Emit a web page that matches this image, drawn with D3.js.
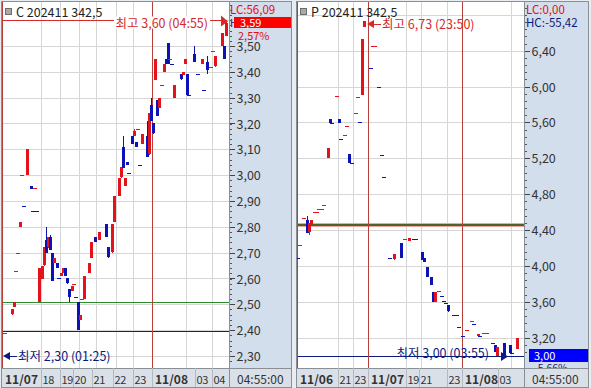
<!doctype html>
<html>
<head>
<meta charset="utf-8">
<title>C / P 202411 342,5</title>
<script src="https://cdnjs.cloudflare.com/ajax/libs/d3/7.8.5/d3.min.js"></script>
<style>
  body { margin: 0; background: #fff; }
  svg text { font-family: "Noto Sans CJK KR", "Noto Sans", sans-serif; }
</style>
</head>
<body>
<div id="chart"></div>
<script>
// ---- call C 202411 342,5 (bar slot, open, high, low, close) ----
const callBar   = [1,4,5,6,7,8,9,10,11,13,14,15,16,17,18,19,20,21,22,23,24,25,26,27,28,29,30,31,32,33,34,35,36,37,38,40,41,43,45,48,49,51,52,54,55,56,57,58,59,60,61,62,63,64,65,67,68,69,70,71,72,73,74,75,76,77,78,79,80,83,84,85,86,87,89,91,93,94,95,97,98,99,102,103,104];
const callOpen  = [2.39,2.46,2.49,2.63,2.70,2.80,3.00,2.88,3.00,2.96,2.86,2.95,2.86,2.51,2.60,2.65,2.75,2.72,2.76,2.70,2.66,2.66,2.60,2.61,2.62,2.64,2.60,2.56,2.55,2.58,2.53,2.51,2.44,2.52,2.52,2.62,2.68,2.76,2.75,2.81,2.72,2.70,2.82,2.92,2.99,3.11,2.96,3.05,3.01,3.15,3.15,3.13,3.18,3.04,3.12,3.15,3.08,3.27,3.20,3.37,3.29,3.26,3.35,3.40,3.45,3.51,3.45,3.43,3.30,3.39,3.39,3.43,3.39,3.31,3.47,3.39,3.43,3.33,3.44,3.42,3.48,3.42,3.50,3.50,3.54];
const callHigh  = [2.39,2.48,2.51,2.63,2.70,2.82,3.00,2.88,3.10,2.96,2.86,2.95,2.86,2.64,2.65,2.72,2.80,2.76,2.77,2.70,2.68,2.66,2.60,2.62,2.64,2.64,2.60,2.56,2.57,2.58,2.53,2.51,2.46,2.52,2.61,2.66,2.74,2.76,2.78,2.81,2.72,2.81,2.92,2.99,3.03,3.15,2.99,3.05,3.01,3.15,3.18,3.13,3.18,3.04,3.16,3.21,3.24,3.30,3.20,3.45,3.29,3.30,3.35,3.43,3.45,3.51,3.45,3.43,3.35,3.39,3.40,3.45,3.39,3.31,3.50,3.39,3.45,3.33,3.46,3.42,3.48,3.46,3.55,3.50,3.60];
const callLow   = [2.39,2.46,2.49,2.63,2.70,2.80,3.00,2.88,3.00,2.95,2.86,2.95,2.86,2.51,2.60,2.65,2.70,2.72,2.71,2.59,2.66,2.64,2.60,2.61,2.62,2.61,2.58,2.51,2.55,2.58,2.53,2.40,2.44,2.52,2.52,2.62,2.68,2.74,2.75,2.76,2.68,2.70,2.82,2.92,2.99,3.03,2.96,3.04,3.01,3.12,3.15,3.11,3.18,3.04,3.12,3.07,3.08,3.21,3.16,3.37,3.23,3.26,3.35,3.40,3.43,3.43,3.45,3.43,3.30,3.37,3.39,3.43,3.31,3.31,3.44,3.39,3.43,3.33,3.39,3.42,3.48,3.42,3.50,3.45,3.54];
const callClose = [2.39,2.48,2.51,2.63,2.70,2.82,3.00,2.88,3.10,2.95,2.86,2.95,2.86,2.64,2.65,2.72,2.70,2.76,2.71,2.59,2.68,2.64,2.60,2.62,2.64,2.61,2.58,2.53,2.57,2.58,2.53,2.40,2.46,2.52,2.61,2.66,2.74,2.74,2.78,2.76,2.68,2.81,2.92,2.99,3.03,3.03,2.99,3.04,3.01,3.12,3.17,3.11,3.18,3.04,3.16,3.07,3.24,3.21,3.16,3.45,3.23,3.30,3.35,3.43,3.43,3.43,3.45,3.43,3.35,3.37,3.40,3.45,3.31,3.31,3.44,3.39,3.45,3.33,3.41,3.42,3.48,3.46,3.55,3.45,3.59];
const callPrevClose = 2.30;
const callTicks  = [2.30,2.40,2.50,2.60,2.70,2.80,2.90,3.00,3.10,3.20,3.30,3.40,3.50];
const callGrid   = [2.30,2.40,2.50,2.60,2.70,2.80,2.90,3.00,3.10,3.20,3.30,3.40,3.50,3.60];
const callHourBar  = [0,18,27,33,42,52,61,70,90,98];
const callHourText = ['11/07','18','19','20','21','22','23','11/08','03','04'];
const callGridBar  = [18,27,36,44,53,61,86,98];
const callDayBar   = [0,70];
const callGreen = 2.51, callNavy = 2.395, callHigh1 = 3.60;

// ---- put P 202411 342,5 ----
const putBar   = [0,1,3,4,5,6,8,9,10,11,12,14,15,16,18,19,20,22,23,24,25,27,28,29,30,31,34,35,36,38,39,40,43,45,48,50,52,54,55,58,59,60,62,63,64,66,67,68,69,70,73,74,75,77,79,81,82,84,85,87,88,91,92,93,96,99,100,102];
const putOpen  = [4.09,4.23,4.53,4.51,4.38,4.46,4.60,4.60,4.63,4.63,4.68,5.20,5.64,5.59,5.90,5.64,5.42,5.46,5.56,5.25,5.15,5.70,5.88,5.60,5.91,6.66,6.21,6.45,6.45,6.00,5.24,4.99,4.09,4.07,4.26,4.30,4.28,4.30,4.30,4.16,4.09,3.99,3.88,3.71,3.60,3.72,3.66,3.61,3.59,3.56,3.45,3.45,3.32,3.22,3.29,3.39,3.35,3.22,3.22,3.25,3.25,3.14,3.12,3.00,3.14,3.12,3.03,3.08];
const putHigh  = [4.09,4.23,4.53,4.56,4.48,4.51,4.60,4.60,4.63,4.63,4.68,5.31,5.64,5.59,5.90,5.64,5.42,5.46,5.56,5.25,5.15,5.70,5.88,5.60,6.53,6.73,6.21,6.45,6.45,6.00,5.24,4.99,4.09,4.13,4.26,4.30,4.31,4.30,4.30,4.16,4.09,3.99,3.88,3.71,3.71,3.72,3.66,3.61,3.59,3.56,3.45,3.45,3.32,3.22,3.29,3.39,3.35,3.24,3.22,3.25,3.25,3.14,3.12,3.10,3.14,3.12,3.03,3.20];
const putLow   = [4.09,4.23,4.53,4.37,4.34,4.46,4.60,4.60,4.63,4.63,4.68,5.20,5.60,5.59,5.90,5.60,5.42,5.46,5.56,5.15,5.15,5.70,5.88,5.60,5.91,6.66,6.21,6.45,6.45,6.00,5.24,4.99,4.09,4.07,4.09,4.30,4.28,4.30,4.30,4.07,4.04,3.88,3.79,3.60,3.60,3.72,3.66,3.61,3.59,3.49,3.45,3.45,3.32,3.22,3.29,3.39,3.35,3.22,3.22,3.25,3.25,3.14,3.04,3.00,3.01,3.03,3.03,3.08];
const putClose = [4.09,4.23,4.53,4.37,4.48,4.51,4.60,4.60,4.63,4.63,4.68,5.31,5.60,5.59,5.90,5.60,5.42,5.46,5.56,5.15,5.15,5.70,5.88,5.60,6.53,6.73,6.21,6.45,6.45,6.00,5.24,4.99,4.09,4.13,4.09,4.30,4.31,4.30,4.30,4.07,4.04,3.88,3.79,3.60,3.71,3.72,3.66,3.61,3.59,3.49,3.45,3.45,3.32,3.22,3.29,3.39,3.35,3.24,3.22,3.25,3.25,3.14,3.04,3.10,3.01,3.03,3.03,3.20];
const putPrevClose = 4.47;
const putTicks  = [3.20,3.60,4.00,4.40,4.80,5.20,5.60,6.00,6.40];
const putGrid   = [3.20,3.60,4.00,4.40,4.80,5.20,5.60,6.00,6.40,6.80];
const putHourBar  = [0,19,26,33,51,57,70,77,94];
const putHourText = ['11/06','21','23','11/07','19','21','23','11/08','03'];
const putGridBar  = [19,26,51,58,70,100];
const putDayBar   = [0,33,77];
const putGreen = 4.47, putLow1 = 3.00;

const W = 591, H = 388, TOP = 2, BOTTOM = 368, ROWB = 387;
const UP = '#e3121b', DOWN = '#0b12b8', NAVY = '#0a1a80', GRID = '#d6d6d6', DAY = '#b8403c';
const AXISBG = '#d3deec', ROWBG = '#dae0e8';
const fmt = v => d3.format('.2f')(v).replace('.', ',');

const svg = d3.select('#chart').append('svg')
  .attr('width', W).attr('height', H)
  .style('display', 'block');
svg.append('rect').attr('width', W).attr('height', H).attr('fill', '#e9edf2');

function panel(p) {
  const g = svg.append('g');
  const x = d3.scaleLinear().domain([-0.5, 105.5]).range([p.left, p.right]);
  const pitch = x(1) - x(0);
  const y = d3.scaleLinear().domain(p.calVal).range(p.calPx);
  const edge = b => Math.round(x(b) - pitch / 2) + 0.5;

  // backgrounds
  g.append('rect').attr('x', p.left).attr('y', TOP).attr('width', p.right - p.left).attr('height', BOTTOM - TOP).attr('fill', '#fff');
  g.append('rect').attr('x', p.right).attr('y', TOP).attr('width', p.axisRight - p.right).attr('height', BOTTOM - TOP).attr('fill', AXISBG);

  const clipId = 'clip' + p.name;
  svg.append('clipPath').attr('id', clipId).append('rect')
    .attr('x', p.left).attr('y', TOP).attr('width', p.right - p.left).attr('height', BOTTOM - TOP);
  svg.append('clipPath').attr('id', clipId + 'ax').append('rect')
    .attr('x', p.right).attr('y', TOP).attr('width', p.axisRight - p.right).attr('height', BOTTOM - TOP);
  const plot = g.append('g').attr('clip-path', `url(#${clipId})`).attr('shape-rendering', 'crispEdges');

  // grid
  plot.selectAll('line.hg').data(p.grid).join('line').attr('class', 'hg')
    .attr('x1', p.left).attr('x2', p.right)
    .attr('y1', d => Math.round(y(d)) + 0.5).attr('y2', d => Math.round(y(d)) + 0.5)
    .attr('stroke', GRID);
  plot.selectAll('line.vg').data(p.gridBar).join('line').attr('class', 'vg')
    .attr('x1', edge).attr('x2', edge)
    .attr('y1', TOP).attr('y2', BOTTOM).attr('stroke', GRID);

  // reference lines
  p.refs(plot, x, y);

  // day dividers
  plot.selectAll('line.day').data(p.dayBar).join('line').attr('class', 'day')
    .attr('x1', edge).attr('x2', edge)
    .attr('y1', TOP).attr('y2', BOTTOM).attr('stroke', DAY).attr('stroke-width', 1.4);

  // candles
  let prevC = p.prevClose, prevCol = UP;
  const bars = p.bar.map((b, k) => {
    const d = {b, o: p.open[k], h: p.high[k], l: p.low[k], c: p.close[k]};
    if (d.c > d.o) d.col = UP;
    else if (d.c < d.o) d.col = DOWN;
    else d.col = d.c > prevC ? UP : d.c < prevC ? DOWN : prevCol;
    prevC = d.c; prevCol = d.col;
    return d;
  });
  const cg = plot.selectAll('g.bar').data(bars).join('g').attr('class', 'bar');
  cg.append('line')
    .attr('x1', d => Math.round(x(d.b)) + 0.5).attr('x2', d => Math.round(x(d.b)) + 0.5)
    .attr('y1', d => y(d.h)).attr('y2', d => y(d.l))
    .attr('stroke', d => d.col).attr('stroke-width', 1);
  cg.append('rect')
    .attr('x', d => Math.round(x(d.b)) - (d.o === d.c ? 2 : 1))
    .attr('width', d => d.o === d.c ? 4 : 3)
    .attr('y', d => Math.round(y(Math.max(d.o, d.c))))
    .attr('height', d => Math.max(1, Math.round(y(Math.min(d.o, d.c)) - y(Math.max(d.o, d.c)))))
    .attr('fill', d => d.col);

  // title
  g.append('rect').attr('x', p.left + 3.5).attr('y', 8.5).attr('width', 6).attr('height', 6)
    .attr('fill', '#a9a9a9').attr('stroke', '#6d6d6d');
  g.append('text').attr('x', p.left + 14).attr('y', 17).attr('font-size', 12.5).attr('fill', '#222').text(p.title);

  // annotations
  const axg = g.append('g').attr('clip-path', `url(#${clipId}ax)`);
  p.notes(g, axg, x, y);

  // y axis
  const ax = g.append('g').attr('shape-rendering', 'crispEdges');
  const minor = d3.range(p.minor[0], p.minor[1] + 1e-9, p.minor[2]);
  ax.selectAll('line.mn').data(minor.filter(v => y(v) > TOP + 2 && y(v) < BOTTOM - 2)).join('line').attr('class', 'mn')
    .attr('x1', p.right).attr('x2', p.right + 3)
    .attr('y1', d => Math.round(y(d)) + 0.5).attr('y2', d => Math.round(y(d)) + 0.5).attr('stroke', '#555');
  ax.selectAll('line.mj').data(p.ticks).join('line').attr('class', 'mj')
    .attr('x1', p.right).attr('x2', p.right + 6)
    .attr('y1', d => Math.round(y(d)) + 0.5).attr('y2', d => Math.round(y(d)) + 0.5).attr('stroke', '#444');
  ax.selectAll('text').data(p.ticks).join('text')
    .attr('x', p.right + 7.5).attr('y', d => y(d) + 5)
    .attr('font-size', 12.5).attr('fill', '#333').text(fmt);

  // x axis row
  g.append('rect').attr('x', p.left).attr('y', BOTTOM).attr('width', p.axisRight - p.left).attr('height', ROWB - BOTTOM).attr('fill', ROWBG);
  g.append('line').attr('x1', p.left).attr('x2', p.axisRight).attr('y1', BOTTOM + 0.5).attr('y2', BOTTOM + 0.5).attr('stroke', '#8a8f96');
  const hx = p.hourBar.map(b => Math.round(x(b) - pitch / 2));
  g.selectAll('line.sep').data(hx.slice(1)).join('line').attr('class', 'sep')
    .attr('x1', d => d + 0.5).attr('x2', d => d + 0.5).attr('y1', BOTTOM).attr('y2', ROWB).attr('stroke', '#b4bac2');
  g.selectAll('text.hr').data(p.hourText).join('text').attr('class', 'hr')
    .attr('x', (d, i) => hx[i] + (d.includes('/') ? 3 : 1.5)).attr('y', 384)
    .attr('font-size', d => d.includes('/') ? 12 : 11).attr('font-weight', d => d.includes('/') ? 'bold' : 'normal')
    .attr('letter-spacing', d => d.includes('/') ? 0 : -0.4)
    .attr('fill', '#333').text(d => d);
  g.append('text').attr('x', p.right + 8).attr('y', 384).attr('font-size', 12).attr('fill', '#333').text('04:55:00');

  // borders
  g.append('line').attr('x1', p.right + 0.5).attr('x2', p.right + 0.5).attr('y1', TOP).attr('y2', ROWB).attr('stroke', '#8a8f96');
  g.append('rect').attr('x', p.left - 0.5).attr('y', TOP - 0.5).attr('width', p.axisRight - p.left + 1).attr('height', ROWB - TOP + 1)
    .attr('fill', 'none').attr('stroke', '#8a8f96');
}

panel({
  name: 'C', title: 'C 202411 342,5', left: 2, right: 229, axisRight: 291,
  calVal: [2.30, 3.50], calPx: [356, 46],
  bar: callBar, open: callOpen, high: callHigh, low: callLow, close: callClose, prevClose: callPrevClose,
  ticks: callTicks, grid: callGrid, minor: [2.26, 3.66, 0.02],
  hourBar: callHourBar, hourText: callHourText, gridBar: callGridBar, dayBar: callDayBar,
  refs: (pl, x, y) => {
    pl.append('line').attr('x1', 2).attr('x2', 229).attr('y1', Math.round(y(callGreen)) + 0.5).attr('y2', Math.round(y(callGreen)) + 0.5).attr('stroke', '#2f8a2f');
    pl.append('line').attr('x1', 2).attr('x2', 229).attr('y1', Math.round(y(callNavy)) + 0.5).attr('y2', Math.round(y(callNavy)) + 0.5).attr('stroke', '#1a1a8c');
    pl.append('line').attr('x1', 2).attr('x2', 226).attr('y1', Math.round(y(callHigh1)) + 0.5).attr('y2', Math.round(y(callHigh1)) + 0.5).attr('stroke', '#d42a2a');
  },
  notes: (g, axg, x, y) => {
    const yh = Math.round(y(callHigh1)) + 0.5;
    g.append('rect').attr('x', 114).attr('y', yh - 4).attr('width', 96).attr('height', 12).attr('fill', '#fff');
    g.append('text').attr('x', 208).attr('y', yh + 7).attr('text-anchor', 'end').attr('font-size', 12.5).attr('fill', '#d42a2a').text('최고 3,60 (04:55)');
    g.append('path').attr('d', `M221,${yh - 5}L228,${yh + 1}L221,${yh + 6}Z`).attr('fill', '#d42a2a');
    const yl = 356;
    g.append('path').attr('d', `M3,${yl}L10,${yl - 4}L10,${yl + 4}Z`).attr('fill', NAVY);
    g.append('line').attr('x1', 9).attr('x2', 17).attr('y1', yl + 0.5).attr('y2', yl + 0.5).attr('stroke', NAVY);
    g.append('text').attr('x', 18).attr('y', yl + 4.5).attr('font-size', 12.5).attr('fill', NAVY).text('최저 2,30 (01:25)');
    // axis header
    axg.append('text').attr('x', 230).attr('y', 27).attr('font-size', 10.5).attr('fill', NAVY).text('H');
    axg.append('text').attr('x', 230).attr('y', 13.5).attr('font-size', 11.5).attr('fill', '#e01010').text('LC:56,09');
    axg.append('rect').attr('x', 234).attr('y', 17).attr('width', 58).attr('height', 11).attr('fill', '#ff0000');
    axg.append('text').attr('x', 240).attr('y', 27).attr('font-size', 11).attr('fill', '#fff').text('3,59');
    axg.append('text').attr('x', 238).attr('y', 39.5).attr('font-size', 11).attr('fill', '#e01010').text('2,57%');
  }
});

panel({
  name: 'P', title: 'P 202411 342,5', left: 297, right: 524, axisRight: 588,
  calVal: [3.20, 6.40], calPx: [337.7, 50.7],
  bar: putBar, open: putOpen, high: putHigh, low: putLow, close: putClose, prevClose: putPrevClose,
  ticks: putTicks, grid: putGrid, minor: [3.04, 6.88, 0.08],
  hourBar: putHourBar, hourText: putHourText, gridBar: putGridBar, dayBar: putDayBar,
  refs: (pl, x, y) => {
    const yg = Math.round(y(putGreen)) + 0.5;
    pl.append('line').attr('x1', 297).attr('x2', 524).attr('y1', yg).attr('y2', yg).attr('stroke', '#f2a4a4').attr('stroke-width', 4);
    pl.append('line').attr('x1', 297).attr('x2', 524).attr('y1', yg).attr('y2', yg).attr('stroke', '#4d6425').attr('stroke-width', 2);
    const yl = Math.round(y(putLow1)) + 0.5;
    pl.append('line').attr('x1', 297).attr('x2', 524).attr('y1', yl).attr('y2', yl).attr('stroke', NAVY);
  },
  notes: (g, axg, x, y) => {
    const yh = 24;
    g.append('path').attr('d', `M367,${yh}L374,${yh - 4}L374,${yh + 4}Z`).attr('fill', '#d42a2a');
    g.append('line').attr('x1', 373).attr('x2', 381).attr('y1', yh + 0.5).attr('y2', yh + 0.5).attr('stroke', '#d42a2a');
    g.append('text').attr('x', 382).attr('y', yh + 4.5).attr('font-size', 12.5).attr('fill', '#d42a2a').text('최고 6,73 (23:50)');
    const yl = Math.round(y(putLow1));
    g.append('text').attr('x', 489).attr('y', yl + 2).attr('text-anchor', 'end').attr('font-size', 12.5).attr('fill', NAVY).text('최저 3,00 (03:55)');
    g.append('path').attr('d', `M501,${yl - 4}L508,${yl + 0.5}L501,${yl + 5}Z`).attr('fill', NAVY);
    // axis header
    axg.append('text').attr('x', 526).attr('y', 13.5).attr('font-size', 11.5).attr('fill', '#e01010').text('LC:0,00');
    axg.append('text').attr('x', 526).attr('y', 27).attr('font-size', 11.5).attr('fill', NAVY).text('HC:-55,42');
    axg.append('text').attr('x', 534).attr('y', 372).attr('font-size', 10.5).attr('fill', NAVY).text('-5,66%');
    axg.append('rect').attr('x', 529).attr('y', 349).attr('width', 59).attr('height', 13).attr('fill', '#0000ff');
    axg.append('text').attr('x', 534).attr('y', 360).attr('font-size', 11).attr('fill', '#fff').text('3,00');
  }
});
</script>
</body>
</html>
